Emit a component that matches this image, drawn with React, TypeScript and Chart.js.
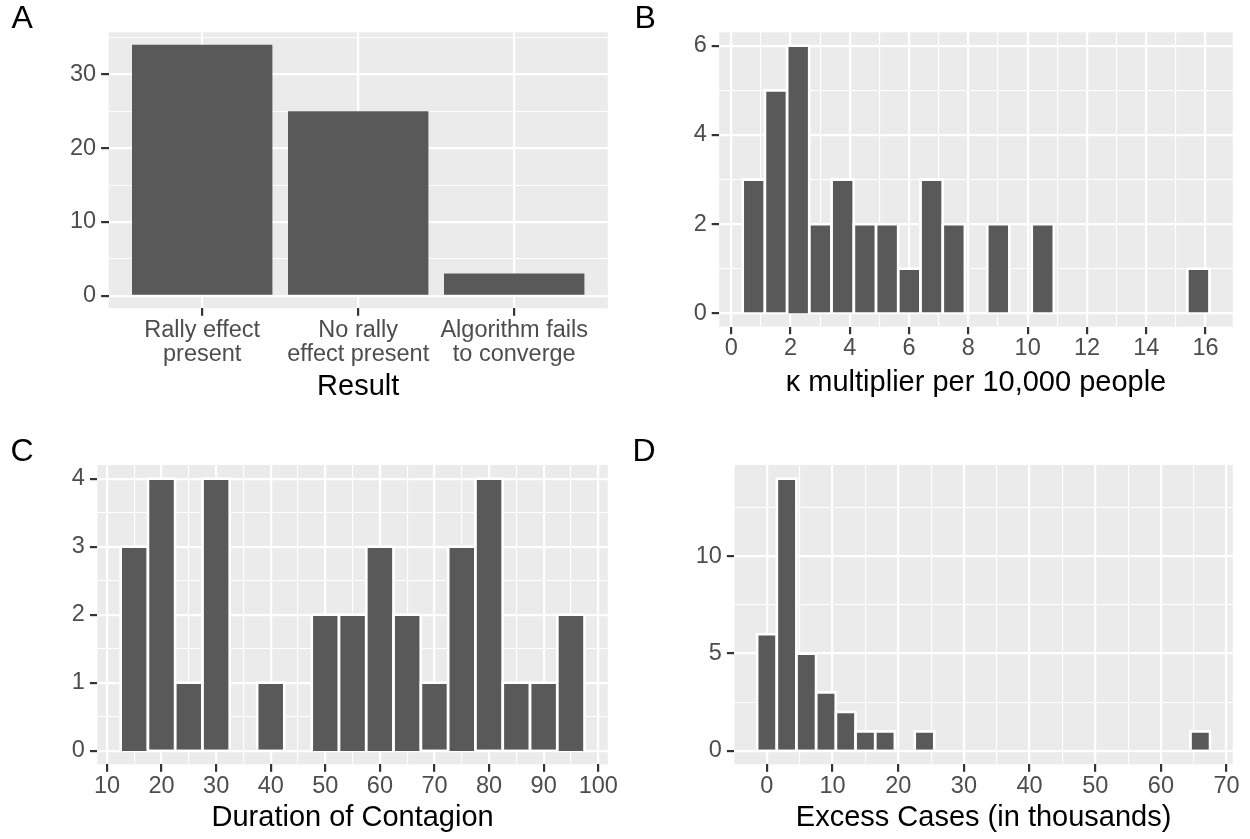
import React, { useEffect, useRef } from "react";
import { Chart, registerables } from "chart.js";

Chart.register(...registerables);

const FONT = '"Liberation Sans", Arial, Helvetica, sans-serif';
const PAGE_W = 1250;
const PAGE_H = 839;

// ---------- Panel A: Result ----------
const resultCategories: string[][] = [
  ["Rally effect", "present"],
  ["No rally", "effect present"],
  ["Algorithm fails", "to converge"],
];
const resultPositions = [1, 2, 3];
const resultCounts = [34, 25, 3];
const resultXMajor = [1, 2, 3];
const resultXMinor: number[] = [];
const resultYMajor = [0, 10, 20, 30];
const resultYMinor = [5, 15, 25, 35];

// ---------- Panel B: kappa multiplier ----------
const kappaBins = [
  0.76, 1.51, 2.26, 3.01, 3.76, 4.51, 5.26, 6.01, 6.76, 7.51, 8.26, 9.01,
  9.76, 10.51, 11.26, 12.01, 12.76, 13.51, 14.26, 15.01, 15.76,
];
const kappaCounts = [3, 5, 6, 2, 3, 2, 2, 1, 3, 2, 0, 2, 0, 2, 0, 0, 0, 0, 0, 0, 1];
const kappaXMajor = [0, 2, 4, 6, 8, 10, 12, 14, 16];
const kappaXMinor = [1, 3, 5, 7, 9, 11, 13, 15];
const kappaYMajor = [0, 2, 4, 6];
const kappaYMinor = [1, 3, 5];

// ---------- Panel C: Duration of Contagion ----------
const durationBins = [15, 20, 25, 30, 35, 40, 45, 50, 55, 60, 65, 70, 75, 80, 85, 90, 95];
const durationCounts = [3, 4, 1, 4, 0, 1, 0, 2, 2, 3, 2, 1, 3, 4, 1, 1, 2];
const durationXMajor = [10, 20, 30, 40, 50, 60, 70, 80, 90, 100];
const durationXMinor = [15, 25, 35, 45, 55, 65, 75, 85, 95];
const durationYMajor = [0, 1, 2, 3, 4];
const durationYMinor = [0.5, 1.5, 2.5, 3.5];

// ---------- Panel D: Excess Cases ----------
const excessBins = [
  0, 3, 6, 9, 12, 15, 18, 21, 24, 27, 30, 33, 36, 39, 42, 45, 48, 51, 54, 57, 60, 63, 66,
];
const excessCounts = [6, 14, 5, 3, 2, 1, 1, 0, 1, 0, 0, 0, 0, 0, 0, 0, 0, 0, 0, 0, 0, 0, 1];
const excessXMajor = [0, 10, 20, 30, 40, 50, 60, 70];
const excessXMinor = [5, 15, 25, 35, 45, 55, 65];
const excessYMajor = [0, 5, 10];
const excessYMinor = [2.5, 7.5, 12.5];

interface PanelSpec {
  xs: number[];
  ys: number[];
  xMin: number;
  xMax: number;
  yMin: number;
  yMax: number;
  xMajor: number[];
  xMinor: number[];
  yMajor: number[];
  yMinor: number[];
  xLabel: (v: number) => string | string[];
  title: string;
  area: { left: number; top: number; right: number; bottom: number };
  xAxisHeight: number;
  histogram: boolean;
}

const panelBackground = {
  id: "panelBackground",
  beforeDraw(chart: any) {
    const { ctx, chartArea: a } = chart;
    ctx.save();
    ctx.fillStyle = "#EBEBEB";
    ctx.fillRect(a.left, a.top, a.right - a.left, a.bottom - a.top);
    ctx.restore();
  },
};

const isIn = (arr: number[], v: number) => arr.some((m) => Math.abs(m - v) < 1e-6);

function makeConfig(p: PanelSpec): any {
  const yAxisWidth = 70;
  const xTicks = [...p.xMajor, ...p.xMinor].sort((a, b) => a - b);
  const yTicks = [...p.yMajor, ...p.yMinor].sort((a, b) => a - b);
  const gridFor = (major: number[]) => ({
    offset: false,
    color: "#FFFFFF",
    lineWidth: (ctx: any) => (ctx.tick && isIn(major, ctx.tick.value) ? 2.2 : 1.1),
    drawTicks: true,
    tickLength: 7.5,
    tickWidth: 2.2,
    tickColor: (ctx: any) =>
      ctx.tick && isIn(major, ctx.tick.value) ? "#333333" : "rgba(0,0,0,0)",
  });
  return {
    type: "bar",
    data: {
      datasets: [
        {
          data: p.xs.map((x, i) => ({ x, y: p.ys[i] })),
          backgroundColor: "#595959",
          borderColor: "#FFFFFF",
          borderWidth: p.histogram ? 2.8 : 0,
          inflateAmount: p.histogram ? 1.4 : 0,
          barPercentage: p.histogram ? 1 : 0.9,
          categoryPercentage: 1,
        },
      ],
    },
    options: {
      responsive: false,
      maintainAspectRatio: false,
      animation: false,
      events: [],
      layout: {
        padding: {
          left: p.area.left - yAxisWidth,
          top: p.area.top,
          right: PAGE_W - p.area.right,
          bottom: PAGE_H - p.area.bottom - p.xAxisHeight,
        },
      },
      plugins: {
        legend: { display: false },
        tooltip: { enabled: false },
        title: { display: false },
      },
      scales: {
        x: {
          type: "linear",
          min: p.xMin,
          max: p.xMax,
          offset: false,
          grid: gridFor(p.xMajor),
          border: { display: false },
          afterBuildTicks: (s: any) => {
            s.ticks = xTicks.map((v) => ({ value: v }));
          },
          afterFit: (s: any) => {
            s.height = p.xAxisHeight;
          },
          ticks: {
            autoSkip: false,
            maxRotation: 0,
            minRotation: 0,
            padding: 3,
            color: "#4D4D4D",
            font: { family: FONT, size: 23.5, lineHeight: 1 },
            callback: (v: any) => (isIn(p.xMajor, Number(v)) ? p.xLabel(Number(v)) : ""),
          },
          title: {
            display: true,
            text: p.title,
            color: "#000000",
            font: { family: FONT, size: 29, lineHeight: 1 },
            padding: { top: 0, bottom: 0 },
          },
        },
        y: {
          type: "linear",
          min: p.yMin,
          max: p.yMax,
          grid: gridFor(p.yMajor),
          border: { display: false },
          afterBuildTicks: (s: any) => {
            s.ticks = yTicks.map((v) => ({ value: v }));
          },
          afterFit: (s: any) => {
            s.width = yAxisWidth;
          },
          ticks: {
            autoSkip: false,
            padding: 5,
            color: "#4D4D4D",
            font: { family: FONT, size: 23.5, lineHeight: 1 },
            callback: (v: any) => (isIn(p.yMajor, Number(v)) ? String(v) : ""),
          },
        },
      },
    },
    plugins: [panelBackground],
  };
}

const panels: PanelSpec[] = [
  {
    xs: resultPositions,
    ys: resultCounts,
    xMin: 0.4,
    xMax: 3.6,
    yMin: -1.7,
    yMax: 35.7,
    xMajor: resultXMajor,
    xMinor: resultXMinor,
    yMajor: resultYMajor,
    yMinor: resultYMinor,
    xLabel: (v) => resultCategories[Math.round(v) - 1] || "",
    title: "Result",
    area: { left: 108.6, top: 32.3, right: 607.8, bottom: 308.3 },
    xAxisHeight: 92.9,
    histogram: false,
  },
  {
    xs: kappaBins,
    ys: kappaCounts,
    xMin: -0.405,
    xMax: 16.92,
    yMin: -0.3,
    yMax: 6.3,
    xMajor: kappaXMajor,
    xMinor: kappaXMinor,
    yMajor: kappaYMajor,
    yMinor: kappaYMinor,
    xLabel: (v) => String(v),
    title: "\u03BA multiplier per 10,000 people",
    area: { left: 719.2, top: 32.3, right: 1232.8, bottom: 326.7 },
    xAxisHeight: 71.1,
    histogram: true,
  },
  {
    xs: durationBins,
    ys: durationCounts,
    xMin: 8.25,
    xMax: 101.75,
    yMin: -0.2,
    yMax: 4.2,
    xMajor: durationXMajor,
    xMinor: durationXMinor,
    yMajor: durationYMajor,
    yMinor: durationYMinor,
    xLabel: (v) => String(v),
    title: "Duration of Contagion",
    area: { left: 97.4, top: 465, right: 607.8, bottom: 764.3 },
    xAxisHeight: 68.5,
    histogram: true,
  },
  {
    xs: excessBins,
    ys: excessCounts,
    xMin: -4.95,
    xMax: 70.95,
    yMin: -0.7,
    yMax: 14.7,
    xMajor: excessXMajor,
    xMinor: excessXMinor,
    yMajor: excessYMajor,
    yMinor: excessYMinor,
    xLabel: (v) => String(v),
    title: "Excess Cases (in thousands)",
    area: { left: 734.4, top: 465, right: 1232.8, bottom: 764.3 },
    xAxisHeight: 68.5,
    histogram: true,
  },
];

const panelLetters = [
  { text: "A", left: 11.5, top: 1.2 },
  { text: "B", left: 634.5, top: 1.2 },
  { text: "C", left: 10.5, top: 433.6 },
  { text: "D", left: 632.5, top: 433.6 },
];

function PanelCanvas({ spec }: { spec: PanelSpec }) {
  const ref = useRef<HTMLCanvasElement | null>(null);
  useEffect(() => {
    if (!ref.current) return;
    const chart = new Chart(ref.current, makeConfig(spec));
    return () => chart.destroy();
  }, [spec]);
  return (
    <canvas
      ref={ref}
      width={PAGE_W}
      height={PAGE_H}
      style={{ position: "absolute", left: 0, top: 0, width: PAGE_W, height: PAGE_H }}
    />
  );
}

export default function App() {
  return (
    <div
      style={{
        position: "absolute",
        left: 0,
        top: 0,
        width: PAGE_W,
        height: PAGE_H,
        background: "#FFFFFF",
        overflow: "hidden",
      }}
    >
      {panels.map((p, i) => (
        <PanelCanvas key={i} spec={p} />
      ))}
      {panelLetters.map((l) => (
        <div
          key={l.text}
          style={{
            position: "absolute",
            left: l.left,
            top: l.top,
            fontFamily: FONT,
            fontSize: 32,
            lineHeight: "32px",
            color: "#000000",
          }}
        >
          {l.text}
        </div>
      ))}
    </div>
  );
}
